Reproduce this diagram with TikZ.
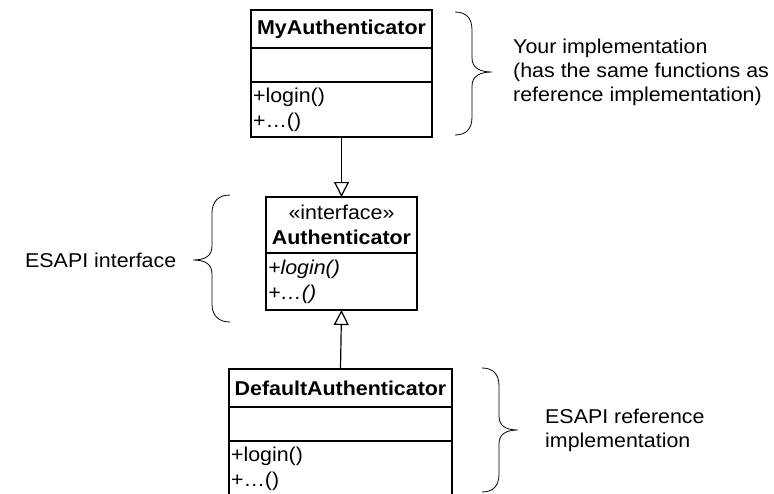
\documentclass[tikz,border=0pt]{standalone}
\usepackage{fontspec}
\setmainfont{Liberation Sans}[FakeStretch=1.07]
\usetikzlibrary{positioning,arrows.meta}

\tikzset{
  part/.style={draw, line width=1.2pt, minimum width=#1, inner sep=2pt, outer sep=0pt, align=center},
  ops/.style={part=#1, align=left},
  realize/.style={line width=1.2pt, -{Triangle[open, length=15pt, width=15pt]}},
  curly/.style={line width=0.8pt},
  note/.style={align=left, inner sep=0pt, font=\fontsize{20}{24}\selectfont}
}

\begin{document}
\begin{tikzpicture}[x=1pt, y=-1pt, font=\fontsize{20}{25}\selectfont]
\useasboundingbox (0,0) rectangle (774,493);

% Your implementation
\node[part=181pt, minimum height=38pt] (myhead) at (341.5,29) {\textbf{MyAuthenticator}};
\node[part=181pt, minimum height=34pt, below=0pt of myhead] (myattr) {};
\node[ops=181pt, text width=177pt, minimum height=55pt, below=0pt of myattr] (myops) {+login()\\+…()};

% Interface
\node[part=151pt, minimum height=56pt] (authhead) at (341.5,225) {«interface»\\\textbf{Authenticator}};
\node[ops=151pt, text width=147pt, minimum height=57pt, below=0pt of authhead] (authops) {\itshape +login()\\+…()};

% Reference implementation
\node[part=223pt, minimum height=38pt] (defhead) at (340.5,388) {\textbf{DefaultAuthenticator}};
\node[part=223pt, minimum height=34pt, below=0pt of defhead] (defattr) {};
\node[ops=223pt, text width=219pt, minimum height=55pt, below=0pt of defattr] (defops) {+login()\\+…()};

% Realizations
\draw[realize] (myops.south) -- (authhead.north);
\draw[realize] (defhead.north) -- (authops.south);

% Braces
\draw[curly] (455,12) .. controls (466,12) and (472,18) .. (472,30) -- (472,58)
  .. controls (472,68) and (480,72) .. (492,72)
  .. controls (480,72) and (472,76) .. (472,86) -- (472,117)
  .. controls (472,129) and (466,135) .. (455,135);
\draw[curly] (230,195) .. controls (219,195) and (212,201) .. (212,213) -- (212,246)
  .. controls (212,256) and (205,260) .. (193,260)
  .. controls (205,260) and (212,264) .. (212,274) -- (212,304)
  .. controls (212,316) and (219,322) .. (230,322);
\draw[curly] (482,368) .. controls (493,368) and (499,374) .. (499,386) -- (499,416)
  .. controls (499,426) and (506,430) .. (518,430)
  .. controls (506,430) and (499,434) .. (499,444) -- (499,474)
  .. controls (499,486) and (493,492) .. (482,492);

% Notes
\node[note, anchor=west] (yournote) at (513,72) {Your implementation\\(has the same functions as\\reference implementation)};
\node[note, anchor=west] (ifnote) at (25,260) {ESAPI interface};
\node[note, anchor=west] (refnote) at (545,430) {ESAPI reference\\implementation};

\end{tikzpicture}
\end{document}
